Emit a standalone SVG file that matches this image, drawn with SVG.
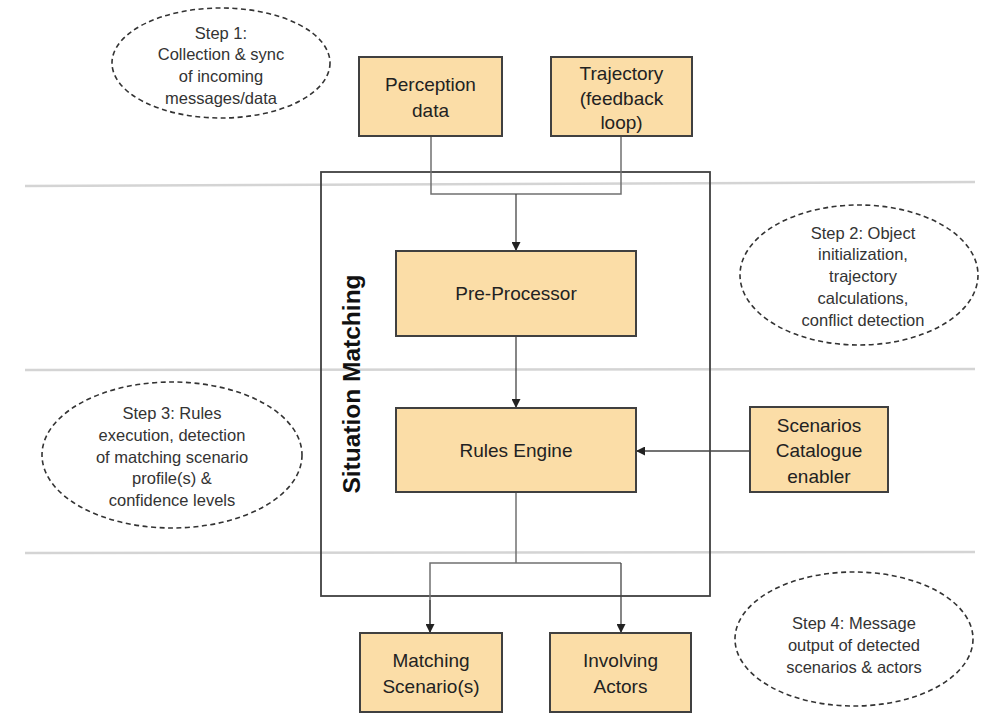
<svg xmlns="http://www.w3.org/2000/svg" width="988" height="717" viewBox="0 0 988 717">
<style>
.box{fill:#FBDDA7;stroke:#404040;stroke-width:2}
.t{font-family:"Liberation Sans",Arial,sans-serif;font-size:19px;fill:#222;text-anchor:middle}
.s{font-family:"Liberation Sans",Arial,sans-serif;font-size:16.5px;fill:#333;text-anchor:middle}
.ell{fill:none;stroke:#333;stroke-width:1.6;stroke-dasharray:5 3.5}
.guide{stroke:#d4d4d4;stroke-width:2.5;fill:none}
.c{fill:none;stroke:#707070;stroke-width:1.5}
.ca{fill:none;stroke:#444;stroke-width:1.3}
</style>
<defs>
<marker id="arr" viewBox="0 0 10 10" refX="10" refY="5" markerWidth="9" markerHeight="9" markerUnits="userSpaceOnUse" orient="auto">
<path d="M0,0 L10,5 L0,10 z" fill="#222"/>
</marker>
</defs>
<rect width="988" height="717" fill="#fff"/>
<g id="guides">
<line class="guide" x1="25" y1="186" x2="975" y2="182"/>
<line class="guide" x1="25" y1="370" x2="975" y2="369"/>
<line class="guide" x1="25" y1="553" x2="975" y2="552"/>
</g>
<g id="situation-matching">
<rect x="321" y="172" width="389" height="424" fill="none" stroke="#404040" stroke-width="1.8"/>
<text transform="translate(360,384) rotate(-90)" font-family="'Liberation Sans',Arial,sans-serif" font-size="24.5px" font-weight="bold" fill="#111" text-anchor="middle">Situation Matching</text>
</g>
<g id="connectors">
<polyline class="c" points="431,136 431,194 621,194 621,136"/>
<line class="ca" x1="516" y1="194" x2="516" y2="251" marker-end="url(#arr)"/>
<line class="ca" x1="516" y1="336" x2="516" y2="408" marker-end="url(#arr)"/>
<line class="ca" x1="750" y1="451" x2="636" y2="451" marker-end="url(#arr)"/>
<line class="c" x1="516" y1="492" x2="516" y2="563"/>
<polyline class="c" points="430,632 430,563 621,563"/>
<line class="ca" x1="430" y1="600" x2="430" y2="633" marker-end="url(#arr)"/>
<line class="ca" x1="621" y1="563" x2="621" y2="633" marker-end="url(#arr)"/>
</g>
<g id="perception">
<rect class="box" x="359" y="57" width="143" height="79"/>
<text class="t" x="430.5" y="91">Perception</text>
<text class="t" x="430.5" y="117">data</text>
</g>
<g id="trajectory">
<rect class="box" x="551" y="57" width="141" height="79"/>
<text class="t" x="621.5" y="80">Trajectory</text>
<text class="t" x="621.5" y="105">(feedback</text>
<text class="t" x="621.5" y="129">loop)</text>
</g>
<g id="preprocessor">
<rect class="box" x="396" y="251" width="240" height="85"/>
<text class="t" x="516" y="300">Pre-Processor</text>
</g>
<g id="rules-engine">
<rect class="box" x="396" y="408" width="240" height="84"/>
<text class="t" x="516" y="457">Rules Engine</text>
</g>
<g id="scenarios-catalogue">
<rect class="box" x="750" y="407" width="138" height="85"/>
<text class="t" x="819" y="432">Scenarios</text>
<text class="t" x="819" y="457">Catalogue</text>
<text class="t" x="819" y="483">enabler</text>
</g>
<g id="matching-scenarios">
<rect class="box" x="360" y="633" width="142" height="79"/>
<text class="t" x="431" y="667">Matching</text>
<text class="t" x="431" y="693">Scenario(s)</text>
</g>
<g id="involving-actors">
<rect class="box" x="550" y="633" width="141" height="79"/>
<text class="t" x="620.5" y="667">Involving</text>
<text class="t" x="620.5" y="693">Actors</text>
</g>
<g id="step1">
<ellipse class="ell" cx="221" cy="63" rx="109" ry="55"/>
<text class="s" x="221" y="39">Step 1:</text>
<text class="s" x="221" y="60">Collection &amp; sync</text>
<text class="s" x="221" y="82">of incoming</text>
<text class="s" x="221" y="104">messages/data</text>
</g>
<g id="step2">
<ellipse class="ell" cx="859" cy="275" rx="119" ry="70"/>
<text class="s" x="863" y="239">Step 2: Object</text>
<text class="s" x="863" y="260">initialization,</text>
<text class="s" x="863" y="282">trajectory</text>
<text class="s" x="863" y="304">calculations,</text>
<text class="s" x="863" y="326">conflict detection</text>
</g>
<g id="step3">
<ellipse class="ell" cx="172" cy="455" rx="130" ry="73"/>
<text class="s" x="172" y="419">Step 3: Rules</text>
<text class="s" x="172" y="441">execution, detection</text>
<text class="s" x="172" y="463">of matching scenario</text>
<text class="s" x="172" y="484">profile(s) &amp;</text>
<text class="s" x="172" y="506">confidence levels</text>
</g>
<g id="step4">
<ellipse class="ell" cx="854" cy="639" rx="119" ry="67"/>
<text class="s" x="854" y="629">Step 4: Message</text>
<text class="s" x="854" y="651">output of detected</text>
<text class="s" x="854" y="673">scenarios &amp; actors</text>
</g>
</svg>
